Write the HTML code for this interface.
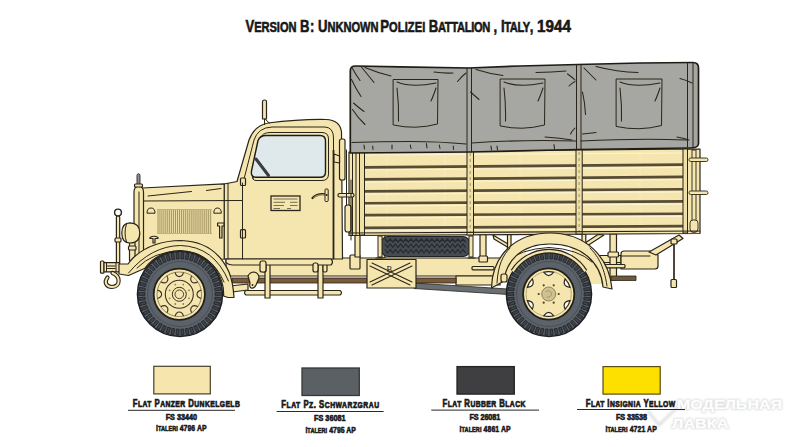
<!DOCTYPE html>
<html><head><meta charset="utf-8">
<style>
html,body{margin:0;padding:0;background:#fff;width:800px;height:447px;overflow:hidden}
svg{display:block}
text{font-family:"Liberation Sans",sans-serif;font-weight:bold;fill:#1a1a1a}
</style></head><body>
<svg width="800" height="447" viewBox="0 0 800 447">
<!-- TITLE -->
<g id="title">
<g transform="translate(245.5 31.7) scale(0.8 1)"><text x="0" y="0" textLength="63.8" lengthAdjust="spacing" font-size="16.4" stroke="#111" stroke-width="0.55">V<tspan font-size="13.9">ERSION</tspan></text></g>
<g transform="translate(300 31.7) scale(0.8 1)"><text x="0" y="0" textLength="12.5" lengthAdjust="spacing" font-size="16.4" stroke="#111" stroke-width="0.55">B</text></g>
<g transform="translate(310 31.7) scale(0.8 1)"><text x="0" y="0" textLength="4.5" lengthAdjust="spacing" font-size="16.4" stroke="#111" stroke-width="0.55">:</text></g>
<g transform="translate(318 31.7) scale(0.8 1)"><text x="0" y="0" textLength="75.6" lengthAdjust="spacing" font-size="16.4" stroke="#111" stroke-width="0.55">U<tspan font-size="13.9">NKNOWN</tspan></text></g>
<g transform="translate(380.3 31.7) scale(0.8 1)"><text x="0" y="0" textLength="56.2" lengthAdjust="spacing" font-size="16.4" stroke="#111" stroke-width="0.55">P<tspan font-size="13.9">OLIZEI</tspan></text></g>
<g transform="translate(428.8 31.7) scale(0.8 1)"><text x="0" y="0" textLength="76.9" lengthAdjust="spacing" font-size="16.4" stroke="#111" stroke-width="0.55">B<tspan font-size="13.9">ATTALION</tspan></text></g>
<g transform="translate(493.5 31.7) scale(0.8 1)"><text x="0" y="0" textLength="5.0" lengthAdjust="spacing" font-size="16.4" stroke="#111" stroke-width="0.55">,</text></g>
<g transform="translate(501 31.7) scale(0.8 1)"><text x="0" y="0" textLength="40.6" lengthAdjust="spacing" font-size="16.4" stroke="#111" stroke-width="0.55">I<tspan font-size="13.9">TALY</tspan>,</text></g>
<g transform="translate(537 31.7) scale(0.92 1)"><text x="0" y="0" textLength="36.9" lengthAdjust="spacingAndGlyphs" font-size="16.4" stroke="#111" stroke-width="0.55">1944</text></g>
</g>
<!-- TRUCK -->
<g id="truck">
<defs>
<style>
.o{stroke:#2a2519;stroke-width:1.2;fill:none;stroke-linejoin:round;stroke-linecap:round}
.b{fill:#f5e5ae;stroke:#2a2519;stroke-width:1.2;stroke-linejoin:round}
.t{stroke:#2a2519;stroke-width:1.05;fill:none;stroke-linecap:round}
.f{stroke:#2a2519;stroke-width:1;fill:none;stroke-linecap:round}
</style>
</defs>
<!-- ===== under-chassis (back) ===== -->
<g>
  <!-- struts under bed -->
  <path class="b" d="M379 234 L385 234 L385 258 L379 258 Z"/>
  <rect class="b" x="480" y="234" width="6" height="42"/>
  <path class="b" d="M493 235 L508 244 L509 248 L494 239 Z"/>
  <rect class="b" x="507.5" y="234" width="3.5" height="20"/>
  <path class="b" d="M604 235 L587 246 L585 243 L598 234.5 Z"/>
  <rect class="b" x="582" y="234" width="3.8" height="15"/>
  <path class="b" d="M592 255.5 L621 255.5 L621 266.5 L592 266.5 Z"/>
  <path class="f" d="M592 262.5 L621 262.5"/>
  <path class="b" d="M610 234 L616.5 234 L616.5 280 L610 280 Z"/>
  <rect class="b" x="608" y="252" width="10.5" height="5" rx="1"/>
  <path class="b" d="M621 254 Q621 251 624 251 L650 251 L658 255 L658 266 Q658 269 655 269 L621 269 Z"/>
  <path class="f" d="M621 256 L650 256"/>
  <path class="b" d="M649 252 L679 235 L683 238.5 L656 255 Z"/>
  <rect class="b" x="603" y="264.5" width="22" height="3.3" rx="1"/>
  <path d="M611 276 L636 276 L636 280.5 L611 280.5 Z" fill="#6b5a40" stroke="#2a2519" stroke-width="0.8"/>
  <path d="M674 241 L674 281" stroke="#3a3226" stroke-width="1.8"/>
  <rect class="b" x="671" y="239" width="6" height="5" rx="1"/>
  <rect class="b" x="671" y="279.5" width="5.5" height="8" rx="1"/>
  <!-- drive shaft / gray line -->
  <path d="M414 283 L508 289 L508 294.5 L414 288.5 Z" fill="#6a6f74" stroke="#2a2519" stroke-width="0.8"/>
  <!-- frame band -->
  <path class="b" d="M226 258 L500 258 L500 276 L226 276 Z"/>
  <path class="b" d="M456 276 L500 276 L500 285 L456 285 Z"/>
  <rect class="b" x="479" y="256" width="8.5" height="6" rx="1"/>
  <rect class="b" x="472" y="266.5" width="22" height="3.3" rx="1"/>
  <!-- exhaust -->
  <path d="M232 278 L456 278 L456 283 L232 283 Z" fill="#7a5a38" stroke="#2a2519" stroke-width="0.8"/>
  <!-- step -->
  <path class="b" d="M246 290.5 L340 290.5 Q343 292.5 340 295 L246 295 Q243 292.5 246 290.5 Z"/>
  <rect class="b" x="265" y="262" width="5" height="36"/>
  <rect class="b" x="318" y="262" width="5" height="36"/>
  <rect class="b" x="262" y="262" width="4" height="10" rx="1.5"/>
  <rect class="b" x="323" y="262" width="4" height="10" rx="1.5"/>
  <!-- box with X -->
  <rect class="b" x="367" y="259.5" width="49" height="28.5"/>
  <path class="t" d="M370 266 L410 285 M372 263 L412 282 M370 282 L410 263 M372 285 L412 266"/>
  <text x="386.5" y="271.5" font-size="8.5" style="font-weight:normal;font-family:'Liberation Serif',serif" fill="#2a2519">B</text>
  <!-- battery box etc right of cab -->
  <rect class="b" x="350" y="255" width="10" height="14" rx="1"/>
  <rect class="b" x="355" y="235" width="5" height="22"/>
</g>

<!-- ===== spare tire ===== -->
<rect x="381" y="236.5" width="89" height="20" rx="7" fill="#464b52" stroke="#1f2226" stroke-width="1.2"/>
<polyline points="385.0,239 387.6,242 390.2,239 392.8,242 395.4,239 398.0,242 400.6,239 403.2,242 405.8,239 408.4,242 411.0,239 413.6,242 416.2,239 418.8,242 421.4,239 424.0,242 426.6,239 429.2,242 431.8,239 434.4,242 437.0,239 439.6,242 442.2,239 444.8,242 447.4,239 450.0,242 452.6,239 455.2,242 457.8,239 460.4,242 463.0,239 465.6,242" fill="none" stroke="#262a2f" stroke-width="1.2"/>
<polyline points="385.0,244 387.6,247.5 390.2,244 392.8,247.5 395.4,244 398.0,247.5 400.6,244 403.2,247.5 405.8,244 408.4,247.5 411.0,244 413.6,247.5 416.2,244 418.8,247.5 421.4,244 424.0,247.5 426.6,244 429.2,247.5 431.8,244 434.4,247.5 437.0,244 439.6,247.5 442.2,244 444.8,247.5 447.4,244 450.0,247.5 452.6,244 455.2,247.5 457.8,244 460.4,247.5 463.0,244 465.6,247.5" fill="none" stroke="#262a2f" stroke-width="1.2"/>
<polyline points="385.0,249.5 387.6,253 390.2,249.5 392.8,253 395.4,249.5 398.0,253 400.6,249.5 403.2,253 405.8,249.5 408.4,253 411.0,249.5 413.6,253 416.2,249.5 418.8,253 421.4,249.5 424.0,253 426.6,249.5 429.2,253 431.8,249.5 434.4,253 437.0,249.5 439.6,253 442.2,249.5 444.8,253 447.4,249.5 450.0,253 452.6,249.5 455.2,253 457.8,249.5 460.4,253 463.0,249.5 465.6,253" fill="none" stroke="#262a2f" stroke-width="1.2"/>
<path d="M378 236 L382 236 L382 257 L378 257 Z M469 236 L473 236 L473 257 L469 257 Z" fill="#f5e5ae" stroke="#2a2519" stroke-width="1"/>
<path class="f" d="M376 258 L383 258 M468 258 L475 258"/>


<!-- ===== cargo bed ===== -->
<g>
  <path class="b" d="M349 152 L700 149 L700 233.5 L349 235.5 Z"/>
  <path d="M387 154 L387 234 M444.5 153 L444.5 234 M520 152 L520 233 M640 151 L640 233" stroke="#fbf1cc" stroke-width="0.7" opacity="0.7"/>
  <g fill="#574d36">
    <path d="M364 166.0 L683 163.3 L683 166.0 L364 168.7 Z"/>
    <path d="M364 178.1 L683 175.6 L683 178.3 L364 180.8 Z"/>
    <path d="M364 190.0 L683 187.9 L683 190.6 L364 192.7 Z"/>
    <path d="M364 201.9 L683 200.1 L683 202.8 L364 204.6 Z"/>
    <path d="M364 213.8 L683 212.4 L683 215.1 L364 216.5 Z"/>
    <path d="M364 226.6 L683 224.7 L683 227.4 L364 229.3 Z"/>
  </g>
  <path d="M364 155.0 L683 153.0 M364 170.0 L683 167.3 M364 182.1 L683 179.6 M364 194.1 L683 191.9 M364 205.9 L683 204.1 M364 217.8 L683 216.4 M364 230.6 L683 228.7 " stroke="#fcf3d2" stroke-width="1.2"/>
  <!-- posts -->
  <rect x="467" y="151" width="6.5" height="84" fill="#efe0a8" stroke="#2a2519" stroke-width="1"/>
  <path d="M470.2 153 L470.2 233" stroke="#8a7d55" stroke-width="0.8" stroke-dasharray="3 3"/>
  <rect x="576" y="150" width="6.2" height="84" fill="#efe0a8" stroke="#2a2519" stroke-width="1"/>
  <path d="M579.1 152 L579.1 232" stroke="#8a7d55" stroke-width="0.8" stroke-dasharray="3 3"/>
  <rect x="359.5" y="152" width="5" height="83" fill="#efe0a8" stroke="#2a2519" stroke-width="1"/>
  <rect x="683" y="149" width="4.5" height="84" fill="#efe0a8" stroke="#2a2519" stroke-width="1"/>
  <path class="f" d="M352.5 152 L352.5 235 M356 152 L356 235 M687.5 149 L687.5 233"/>
  <rect x="692" y="150" width="4" height="82" fill="#f5e5ae" stroke="#2a2519" stroke-width="0.9"/>
  <rect x="689" y="158" width="19" height="3.5" rx="1.7" fill="#f5e5ae" stroke="#2a2519" stroke-width="0.9"/>
  <rect x="689" y="191" width="19" height="3.5" rx="1.7" fill="#f5e5ae" stroke="#2a2519" stroke-width="0.9"/>
  <rect x="690" y="220" width="8" height="12" rx="3" fill="#f5e5ae" stroke="#2a2519" stroke-width="0.9"/>
  <path class="o" d="M349 233 L700 231"/>
</g>

<!-- ===== canopy ===== -->
<g>
  <path d="M350.3 70.5 Q350.5 66 355.5 66 L400 66.8 L469 68 L520 66 L578 64.5 L640 63 L693 62.5 Q698.5 62.5 698.5 68 L698.5 144 Q698 148 690 148 L578 149.5 L469 152 L350.3 153 Z" fill="#a6a7a2" stroke="#1f1c16" stroke-width="1.7"/>
  <path class="f" stroke-width="1.1" d="M467 68 L467 152 M471.5 68 L471.5 152 M576.5 64.5 L576.5 149.5 M581 64.5 L581 149.5 M687.5 63 L687.5 147 M693 63 L693 147"/>
  <!-- windows -->
  <path class="f" stroke-width="1.6" d="M393.5 79.5 L438 79.5 L437.5 124 Q415 130 393.5 125 Z"/>
  <path class="f" stroke-width="1.6" d="M500.5 79 L545 79 L544.5 125 Q522 131 500.5 126 Z"/>
  <path class="f" stroke-width="1.6" d="M616.5 79 L662 79 L661.5 125.5 Q639 131.5 616.5 126.5 Z"/>
  <!-- window sag folds -->
  <path class="t" d="M397 82 Q412 88 436 83 M397 88 Q399 105 398.5 121 M436 88 Q433 97 431 101"/>
  <path class="t" d="M504 82 Q519 88 543 83 M504 88 Q506 105 505.5 121 M543 88 Q540 97 538 101"/>
  <path class="t" d="M620 82 Q635 88 660 83 M620 88 Q622 105 621.5 121 M660 88 Q657 97 655 101"/>
  <!-- folds -->
  <path class="t" d="M352.5 68.5 Q356 75 360 80.5 M361 66.5 Q368 75 374 82.5 M365 67.5 Q378 73 391 76 M351.5 79.5 Q356 89 361 96.5 M353.5 103 Q359 108 364 111.5 M352.5 109.5 Q358 118 365 124.5 M434 72 Q444 73.5 453 73 M457.5 81.5 Q462 76 466 73"/>
  <path class="t" d="M476 69.5 Q490 74 503 75.5 M536 72.5 Q552 72 566 71 M567.5 74 Q572 77 575 80 M569 86 Q572 83 575 81.5 M470.5 92 Q475 96 479 99.5 M575 128 Q572 131 570.5 134 M545 137 Q560 138 572 140"/>
  <path class="t" d="M584 68 Q590 74 596 80 M596 66.5 Q617 72 638 72.5 M582.5 92 Q585 103 585.5 114.5 M582.5 134 Q590 133 596 132.5 M680 78.5 Q686 80 692 83 M677 137 Q683 138 689 140"/>
  <!-- hem -->
  <path class="t" d="M352 142.5 Q380 141.5 410 141.5 Q440 141.5 466 144 M471.5 143 Q520 139.5 576 141 M581 141 Q640 138 687 140"/>
  <path class="t" d="M364 145 L364.5 149 M372.7 146 L373 149.5 M392 145 L392 149 M410.3 145 L411 148.5 M426.4 143.5 L427 148 M439.3 145 L440 148.5 M453.3 146 L453.5 149.5 M491 146 L491.5 150 M497 146 L497.5 150 M554 144.5 L554.5 149"/>
</g>

<!-- ===== cab ===== -->
<g>
  <path class="b" d="M224 184 L237 181.5 L249 140 Q254 126 268 123 Q300 119 326 119.5 Q340 120 341.5 132 L342.5 259 L224 259 Z"/>
  <!-- door outline -->
  <path class="f" d="M243 183 L254 140 Q258 127.5 272 127 L325 127 Q333.5 127.5 333.5 138 L333.5 259"/>
  <path d="M333.5 150 L333.5 259" stroke="#2a2519" stroke-width="1.8"/>
  <!-- window frame -->
  <path class="f" d="M253 178 L260 139 Q262 132.5 270 132.5 L322 132.5 Q328.5 132.5 328.5 139 L328.5 174 Q328.5 180.5 322 180.5 L256 180.5 Q251.5 180.5 253 175 Z"/>
  <path d="M258 140.5 Q260 135.5 266 135.5 L320 135.5 Q325.5 135.5 325.5 141 L325.5 172 Q325.5 177.3 320 177.3 L256.5 177.3 Q250.5 177.3 251.5 171 Z" fill="#dfe8ea" stroke="#1f1c16" stroke-width="1.4"/>
  <path d="M256 159 L268.5 175.5" stroke="#3a3d40" stroke-width="3" stroke-linecap="round"/>
  <!-- plate -->
  <rect x="271" y="196" width="29" height="14.5" fill="#f5e5ae" stroke="#2a2519" stroke-width="1.3"/>
  <path d="M273.5 199 L297.5 199 M273.5 202.3 L285 202.3 M290 202.3 L297.5 202.3 M273.5 205.5 L284 205.5 M290 205.5 L297.5 205.5 M273.5 208.5 L280 208.5 M287 208.5 L291 208.5" stroke="#6b6048" stroke-width="0.9"/>
  <!-- handle -->
  <path d="M312.5 198 Q318 193 326 194.5" stroke="#2a2519" stroke-width="2.2" fill="none" stroke-linecap="round"/>
  <path d="M313.5 197.5 Q318 194 325 195" stroke="#f5e5ae" stroke-width="0.7" fill="none"/>
  <rect x="325" y="189" width="3.2" height="12.5" rx="1" fill="#f5e5ae" stroke="#2a2519" stroke-width="1"/>
  <circle cx="326.6" cy="195" r="1.1" fill="#2a2519"/>
  <!-- hinges -->
  <rect class="b" x="240.5" y="178" width="5" height="7.5" rx="1"/>
  <rect class="b" x="240.5" y="229.7" width="5" height="8.3" rx="1"/>
  <!-- antenna -->
  <path class="b" d="M262.5 101.5 Q262.5 100 264.5 100 Q266.5 100 266.5 101.5 L266.5 119 L262.5 119 Z"/>
  <path class="f" d="M264.5 119 L264.5 124.5 M265.5 119.5 L269.5 123.2"/>
</g>

<g>
  <!-- front-of-bed rods and handle -->
  <rect class="b" x="339.5" y="139" width="5.5" height="41" rx="2"/>
  <path class="b" d="M334 154 L339.5 156 L339.5 163 L334 162 Z"/>
  <rect class="b" x="338" y="193.5" width="16" height="3.5" rx="1.5"/>
  <rect class="b" x="345" y="205" width="6" height="27" rx="2.5"/>
  <path class="f" d="M346.5 150 L346.5 205 M351 180 L351 240"/>
</g>
<!-- sill -->
<path class="b" d="M226 259 L331 259 Q334 262 331 265 L233 265 Q228 265 226 262 Z"/>
<rect class="b" x="260" y="261" width="6" height="11" rx="2"/>
<rect class="b" x="313" y="263" width="5" height="9" rx="2"/>
<path class="b" d="M248 276 Q250 272 254 272 Q259 273 259 278 L256 285 Q254 289 251 288 Q249 287 250 283 Z"/>
<circle cx="252.5" cy="285" r="0.9" fill="#2a2519"/>
<path class="b" d="M230 286 L248 284 L248 290 L232 292 Z"/>
<!-- ===== hood ===== -->
<g>
  <path class="b" d="M142 188 L224.2 183.8 L224.2 259 L142 262 Z"/>
  <path class="f" d="M143 201 L242 200.5 M228 183.5 L228 259 M242.5 183 L242.5 259"/>
  <path class="f" stroke-width="1.3" d="M148 196 L191.5 191.5 M206.5 190.5 L221 188.5"/>
  <!-- louvers -->
  <path d="M158.00 210V233M159.95 210V233M161.90 210V233M163.85 210V233M165.80 210V233M167.75 210V233M169.70 210V233M171.65 210V233M173.60 210V233M175.55 210V233M177.50 210V233M179.45 210V233M181.40 210V233M183.35 210V233M185.30 210V233M187.25 210V233M189.20 210V233M191.15 210V233M193.10 210V233M195.05 210V233M197.00 210V233M198.95 210V233M200.90 210V233M202.85 210V233M204.80 210V233M206.75 210V233M208.70 210V233M210.65 210V233" stroke="#a39462" stroke-width="1.05"/>
  <path d="M157 209.5 L212 209.5 M157 233.5 L212 233.5" stroke="#b3a474" stroke-width="0.8"/>
  <!-- vents -->
  <path class="f" d="M147 212.8 Q147 208 151 208 Q155 208 155 212.8 Z"/>
  <path class="f" d="M213.8 212.8 Q213.8 208 217.5 208 Q221.3 208 221.3 212.8 Z"/>
  <!-- T-handle -->
  <path class="b" d="M217.6 223 L224 223 L224 226 L222 226 L222 238 L219.6 238 L219.6 226 L217.6 226 Z"/>
  <!-- knob -->
  <path class="b" d="M150 237.5 Q154 235 158 237.5 L158 238.5 L155 238.5 L155 243 L153 243 L153 238.5 L150 238.5 Z"/>
  <!-- cowl hinge -->
  
  <!-- radiator shell -->
  <path class="b" d="M134 192 Q134 186.5 138.5 186.5 Q143.5 186.5 143.5 192 L143.5 263 L134 263 Z"/>
  <path class="f" d="M139 192 L139 262"/>
  <path d="M137 184.5 L137 175.5 Q137 173.8 138.5 173.8 Q140 173.8 140 175.5 L140 184.5 Z" fill="#8e9296" stroke="#2a2519" stroke-width="0.9"/>
  <rect class="b" x="134.5" y="184" width="8" height="3" rx="1"/>
  <!-- headlight -->
  <rect class="b" x="129.5" y="242" width="5.5" height="19" rx="1"/>
  <rect class="b" x="128.5" y="246" width="7.5" height="4" rx="1"/>
  <path class="b" d="M130 222.8 Q139.8 223 139.8 233 Q139.8 243 130 243 Q121.8 243 121.8 233 Q121.8 222.8 130 222.8 Z"/>
  <path class="f" d="M126.5 223.8 Q123.5 233 126.5 242"/>
  <!-- post -->
  <rect class="b" x="116.4" y="216" width="3.3" height="48" rx="1"/>
  <circle cx="118" cy="212.5" r="3.4" fill="#fff" stroke="#2a2519" stroke-width="1.4"/>
  <rect class="b" x="115" y="238" width="6" height="4" rx="1"/>
  <!-- bumper -->
  <rect class="b" x="100.5" y="261" width="3.5" height="12.2" rx="1"/>
  <rect class="b" x="104" y="262.6" width="15.5" height="9.2"/>
  <path class="f" d="M106.5 263 L106.5 271.5 M116 263 L116 271.5"/>
  <path class="f" stroke-width="0.8" d="M107.5 266 L115 266 M107.5 268.5 L115 268.5"/>
  <!-- hook -->
  <path d="M112.5 273 C120.5 276 121 286.5 112 287 C106 287 104 282 107.5 277.5" stroke="#2a2519" stroke-width="4.2" fill="none" stroke-linecap="round"/>
  <path d="M112.5 273 C120.5 276 121 286.5 112 287 C106 287 104 282 107.5 277.5" stroke="#f5e5ae" stroke-width="2" fill="none" stroke-linecap="round"/>
</g>

<path d="M498 270 L506 254 L526 246 L526 282 L498 282 Z M572 246 L592 254 L601 268 L602 284 L572 284 Z" fill="#f5e5ae"/>
<path class="f" d="M506 262 Q520 249 549 247.5 Q578 249 592 262"/>
<g id="fw">
<circle cx="180" cy="294" r="42.5" fill="#5c626a" stroke="#1c1f23" stroke-width="1.6"/>
<g fill="#3f444a" stroke="#25282c" stroke-width="0.9"><rect x="215.2" y="292.65" width="6.0" height="2.7" transform="rotate(0.0 180 294)"/><rect x="215.2" y="292.65" width="6.0" height="2.7" transform="rotate(7.2 180 294)"/><rect x="215.2" y="292.65" width="6.0" height="2.7" transform="rotate(14.4 180 294)"/><rect x="215.2" y="292.65" width="6.0" height="2.7" transform="rotate(21.6 180 294)"/><rect x="215.2" y="292.65" width="6.0" height="2.7" transform="rotate(28.8 180 294)"/><rect x="215.2" y="292.65" width="6.0" height="2.7" transform="rotate(36.0 180 294)"/><rect x="215.2" y="292.65" width="6.0" height="2.7" transform="rotate(43.2 180 294)"/><rect x="215.2" y="292.65" width="6.0" height="2.7" transform="rotate(50.4 180 294)"/><rect x="215.2" y="292.65" width="6.0" height="2.7" transform="rotate(57.6 180 294)"/><rect x="215.2" y="292.65" width="6.0" height="2.7" transform="rotate(64.8 180 294)"/><rect x="215.2" y="292.65" width="6.0" height="2.7" transform="rotate(72.0 180 294)"/><rect x="215.2" y="292.65" width="6.0" height="2.7" transform="rotate(79.2 180 294)"/><rect x="215.2" y="292.65" width="6.0" height="2.7" transform="rotate(86.4 180 294)"/><rect x="215.2" y="292.65" width="6.0" height="2.7" transform="rotate(93.6 180 294)"/><rect x="215.2" y="292.65" width="6.0" height="2.7" transform="rotate(100.8 180 294)"/><rect x="215.2" y="292.65" width="6.0" height="2.7" transform="rotate(108.0 180 294)"/><rect x="215.2" y="292.65" width="6.0" height="2.7" transform="rotate(115.2 180 294)"/><rect x="215.2" y="292.65" width="6.0" height="2.7" transform="rotate(122.4 180 294)"/><rect x="215.2" y="292.65" width="6.0" height="2.7" transform="rotate(129.6 180 294)"/><rect x="215.2" y="292.65" width="6.0" height="2.7" transform="rotate(136.8 180 294)"/><rect x="215.2" y="292.65" width="6.0" height="2.7" transform="rotate(144.0 180 294)"/><rect x="215.2" y="292.65" width="6.0" height="2.7" transform="rotate(151.2 180 294)"/><rect x="215.2" y="292.65" width="6.0" height="2.7" transform="rotate(158.4 180 294)"/><rect x="215.2" y="292.65" width="6.0" height="2.7" transform="rotate(165.6 180 294)"/><rect x="215.2" y="292.65" width="6.0" height="2.7" transform="rotate(172.8 180 294)"/><rect x="215.2" y="292.65" width="6.0" height="2.7" transform="rotate(180.0 180 294)"/><rect x="215.2" y="292.65" width="6.0" height="2.7" transform="rotate(187.2 180 294)"/><rect x="215.2" y="292.65" width="6.0" height="2.7" transform="rotate(194.4 180 294)"/><rect x="215.2" y="292.65" width="6.0" height="2.7" transform="rotate(201.6 180 294)"/><rect x="215.2" y="292.65" width="6.0" height="2.7" transform="rotate(208.8 180 294)"/><rect x="215.2" y="292.65" width="6.0" height="2.7" transform="rotate(216.0 180 294)"/><rect x="215.2" y="292.65" width="6.0" height="2.7" transform="rotate(223.2 180 294)"/><rect x="215.2" y="292.65" width="6.0" height="2.7" transform="rotate(230.4 180 294)"/><rect x="215.2" y="292.65" width="6.0" height="2.7" transform="rotate(237.6 180 294)"/><rect x="215.2" y="292.65" width="6.0" height="2.7" transform="rotate(244.8 180 294)"/><rect x="215.2" y="292.65" width="6.0" height="2.7" transform="rotate(252.0 180 294)"/><rect x="215.2" y="292.65" width="6.0" height="2.7" transform="rotate(259.2 180 294)"/><rect x="215.2" y="292.65" width="6.0" height="2.7" transform="rotate(266.4 180 294)"/><rect x="215.2" y="292.65" width="6.0" height="2.7" transform="rotate(273.6 180 294)"/><rect x="215.2" y="292.65" width="6.0" height="2.7" transform="rotate(280.8 180 294)"/><rect x="215.2" y="292.65" width="6.0" height="2.7" transform="rotate(288.0 180 294)"/><rect x="215.2" y="292.65" width="6.0" height="2.7" transform="rotate(295.2 180 294)"/><rect x="215.2" y="292.65" width="6.0" height="2.7" transform="rotate(302.4 180 294)"/><rect x="215.2" y="292.65" width="6.0" height="2.7" transform="rotate(309.6 180 294)"/><rect x="215.2" y="292.65" width="6.0" height="2.7" transform="rotate(316.8 180 294)"/><rect x="215.2" y="292.65" width="6.0" height="2.7" transform="rotate(324.0 180 294)"/><rect x="215.2" y="292.65" width="6.0" height="2.7" transform="rotate(331.2 180 294)"/><rect x="215.2" y="292.65" width="6.0" height="2.7" transform="rotate(338.4 180 294)"/><rect x="215.2" y="292.65" width="6.0" height="2.7" transform="rotate(345.6 180 294)"/><rect x="215.2" y="292.65" width="6.0" height="2.7" transform="rotate(352.8 180 294)"/></g>
<circle cx="180" cy="294" r="32.5" fill="none" stroke="#4a4f56" stroke-width="1"/>
<circle cx="179.3" cy="294.3" r="25.6" fill="#f5e5ae" stroke="#22201a" stroke-width="1.8"/>
<circle cx="179.3" cy="294.3" r="22.3" fill="none" stroke="#6b5f40" stroke-width="0.7"/>
<path d="M175.1 272.4C176.5 278.0 182.1 278.0 183.5 272.4M191.8 275.8C188.8 280.8 192.8 284.8 197.8 281.8M201.2 290.1C195.6 291.5 195.6 297.1 201.2 298.5M197.8 306.8C192.8 303.8 188.8 307.8 191.8 312.8M183.5 316.2C182.1 310.6 176.5 310.6 175.1 316.2M166.8 312.8C169.8 307.8 165.8 303.8 160.8 306.8M157.4 298.5C163.0 297.1 163.0 291.5 157.4 290.1M160.8 281.8C165.8 284.8 169.8 280.8 166.8 275.8" fill="none" stroke="#3a3326" stroke-width="1.1"/>
<circle cx="179.3" cy="294.3" r="14" fill="none" stroke="#3a3326" stroke-width="1.1"/>
<circle cx="179.3" cy="294.3" r="7" fill="none" stroke="#3a3326" stroke-width="1"/>
<circle cx="179.3" cy="294.3" r="4.3" fill="none" stroke="#3a3326" stroke-width="0.9"/>
<circle cx="189.0" cy="298.3" r="0.9" fill="#8a7d55"/>
<circle cx="183.3" cy="304.0" r="0.9" fill="#8a7d55"/>
<circle cx="175.3" cy="304.0" r="0.9" fill="#8a7d55"/>
<circle cx="169.6" cy="298.3" r="0.9" fill="#8a7d55"/>
<circle cx="169.6" cy="290.3" r="0.9" fill="#8a7d55"/>
<circle cx="175.3" cy="284.6" r="0.9" fill="#8a7d55"/>
<circle cx="183.3" cy="284.6" r="0.9" fill="#8a7d55"/>
<circle cx="189.0" cy="290.3" r="0.9" fill="#8a7d55"/>
</g>
<g id="rw">
<circle cx="549" cy="294" r="42.5" fill="#5c626a" stroke="#1c1f23" stroke-width="1.6"/>
<g fill="#3f444a" stroke="#25282c" stroke-width="0.9"><rect x="584.2" y="292.65" width="6.0" height="2.7" transform="rotate(0.0 549 294)"/><rect x="584.2" y="292.65" width="6.0" height="2.7" transform="rotate(7.2 549 294)"/><rect x="584.2" y="292.65" width="6.0" height="2.7" transform="rotate(14.4 549 294)"/><rect x="584.2" y="292.65" width="6.0" height="2.7" transform="rotate(21.6 549 294)"/><rect x="584.2" y="292.65" width="6.0" height="2.7" transform="rotate(28.8 549 294)"/><rect x="584.2" y="292.65" width="6.0" height="2.7" transform="rotate(36.0 549 294)"/><rect x="584.2" y="292.65" width="6.0" height="2.7" transform="rotate(43.2 549 294)"/><rect x="584.2" y="292.65" width="6.0" height="2.7" transform="rotate(50.4 549 294)"/><rect x="584.2" y="292.65" width="6.0" height="2.7" transform="rotate(57.6 549 294)"/><rect x="584.2" y="292.65" width="6.0" height="2.7" transform="rotate(64.8 549 294)"/><rect x="584.2" y="292.65" width="6.0" height="2.7" transform="rotate(72.0 549 294)"/><rect x="584.2" y="292.65" width="6.0" height="2.7" transform="rotate(79.2 549 294)"/><rect x="584.2" y="292.65" width="6.0" height="2.7" transform="rotate(86.4 549 294)"/><rect x="584.2" y="292.65" width="6.0" height="2.7" transform="rotate(93.6 549 294)"/><rect x="584.2" y="292.65" width="6.0" height="2.7" transform="rotate(100.8 549 294)"/><rect x="584.2" y="292.65" width="6.0" height="2.7" transform="rotate(108.0 549 294)"/><rect x="584.2" y="292.65" width="6.0" height="2.7" transform="rotate(115.2 549 294)"/><rect x="584.2" y="292.65" width="6.0" height="2.7" transform="rotate(122.4 549 294)"/><rect x="584.2" y="292.65" width="6.0" height="2.7" transform="rotate(129.6 549 294)"/><rect x="584.2" y="292.65" width="6.0" height="2.7" transform="rotate(136.8 549 294)"/><rect x="584.2" y="292.65" width="6.0" height="2.7" transform="rotate(144.0 549 294)"/><rect x="584.2" y="292.65" width="6.0" height="2.7" transform="rotate(151.2 549 294)"/><rect x="584.2" y="292.65" width="6.0" height="2.7" transform="rotate(158.4 549 294)"/><rect x="584.2" y="292.65" width="6.0" height="2.7" transform="rotate(165.6 549 294)"/><rect x="584.2" y="292.65" width="6.0" height="2.7" transform="rotate(172.8 549 294)"/><rect x="584.2" y="292.65" width="6.0" height="2.7" transform="rotate(180.0 549 294)"/><rect x="584.2" y="292.65" width="6.0" height="2.7" transform="rotate(187.2 549 294)"/><rect x="584.2" y="292.65" width="6.0" height="2.7" transform="rotate(194.4 549 294)"/><rect x="584.2" y="292.65" width="6.0" height="2.7" transform="rotate(201.6 549 294)"/><rect x="584.2" y="292.65" width="6.0" height="2.7" transform="rotate(208.8 549 294)"/><rect x="584.2" y="292.65" width="6.0" height="2.7" transform="rotate(216.0 549 294)"/><rect x="584.2" y="292.65" width="6.0" height="2.7" transform="rotate(223.2 549 294)"/><rect x="584.2" y="292.65" width="6.0" height="2.7" transform="rotate(230.4 549 294)"/><rect x="584.2" y="292.65" width="6.0" height="2.7" transform="rotate(237.6 549 294)"/><rect x="584.2" y="292.65" width="6.0" height="2.7" transform="rotate(244.8 549 294)"/><rect x="584.2" y="292.65" width="6.0" height="2.7" transform="rotate(252.0 549 294)"/><rect x="584.2" y="292.65" width="6.0" height="2.7" transform="rotate(259.2 549 294)"/><rect x="584.2" y="292.65" width="6.0" height="2.7" transform="rotate(266.4 549 294)"/><rect x="584.2" y="292.65" width="6.0" height="2.7" transform="rotate(273.6 549 294)"/><rect x="584.2" y="292.65" width="6.0" height="2.7" transform="rotate(280.8 549 294)"/><rect x="584.2" y="292.65" width="6.0" height="2.7" transform="rotate(288.0 549 294)"/><rect x="584.2" y="292.65" width="6.0" height="2.7" transform="rotate(295.2 549 294)"/><rect x="584.2" y="292.65" width="6.0" height="2.7" transform="rotate(302.4 549 294)"/><rect x="584.2" y="292.65" width="6.0" height="2.7" transform="rotate(309.6 549 294)"/><rect x="584.2" y="292.65" width="6.0" height="2.7" transform="rotate(316.8 549 294)"/><rect x="584.2" y="292.65" width="6.0" height="2.7" transform="rotate(324.0 549 294)"/><rect x="584.2" y="292.65" width="6.0" height="2.7" transform="rotate(331.2 549 294)"/><rect x="584.2" y="292.65" width="6.0" height="2.7" transform="rotate(338.4 549 294)"/><rect x="584.2" y="292.65" width="6.0" height="2.7" transform="rotate(345.6 549 294)"/><rect x="584.2" y="292.65" width="6.0" height="2.7" transform="rotate(352.8 549 294)"/></g>
<circle cx="549" cy="294" r="32.5" fill="none" stroke="#4a4f56" stroke-width="1"/>
<circle cx="548.7" cy="294" r="25.6" fill="#f5e5ae" stroke="#22201a" stroke-width="1.8"/>
<circle cx="548.7" cy="294" r="22.6" fill="none" stroke="#8a7d55" stroke-width="0.6"/>
<path d="M543.7 272.2 Q548.7 271.0 553.7 272.2 Q548.7 279.0 543.7 272.2 Z" fill="#fdfdfb" stroke="#2a2519" stroke-width="1.1"/>
<path d="M565.1 278.8 Q568.6 282.5 570.1 287.4 Q561.7 286.5 565.1 278.8 Z" fill="#fdfdfb" stroke="#2a2519" stroke-width="1.1"/>
<path d="M570.1 300.6 Q568.6 305.5 565.1 309.2 Q561.7 301.5 570.1 300.6 Z" fill="#fdfdfb" stroke="#2a2519" stroke-width="1.1"/>
<path d="M553.7 315.8 Q548.7 317.0 543.7 315.8 Q548.7 309.0 553.7 315.8 Z" fill="#fdfdfb" stroke="#2a2519" stroke-width="1.1"/>
<path d="M532.3 309.2 Q528.8 305.5 527.3 300.6 Q535.7 301.5 532.3 309.2 Z" fill="#fdfdfb" stroke="#2a2519" stroke-width="1.1"/>
<path d="M527.3 287.4 Q528.8 282.5 532.3 278.8 Q535.7 286.5 527.3 287.4 Z" fill="#fdfdfb" stroke="#2a2519" stroke-width="1.1"/>
<circle cx="548.7" cy="294" r="7" fill="#cfc190" stroke="#8a7d55" stroke-width="0.9"/>
<path d="M545.7 292 Q548.7 289 551.7 293 Q550.7 298 546.7 297" fill="none" stroke="#9a8c62" stroke-width="0.8"/>
<circle cx="558.7" cy="294.0" r="1.1" fill="#4a4030"/>
<circle cx="553.7" cy="302.7" r="1.1" fill="#4a4030"/>
<circle cx="543.7" cy="302.7" r="1.1" fill="#4a4030"/>
<circle cx="538.7" cy="294.0" r="1.1" fill="#4a4030"/>
<circle cx="543.7" cy="285.3" r="1.1" fill="#4a4030"/>
<circle cx="553.7" cy="285.3" r="1.1" fill="#4a4030"/>
</g>

<!-- ===== front fender ===== -->
<path class="b" d="M119 264 L128 264 Q131 260 133 258 Q151 241 181 240.5 Q215 241.5 229 272 Q233 282 234 297.5 L228 297.5 L223.6 296 A43.6 43.6 0 0 0 145 268.2 L128.5 275.5 L119 274 Z"/>
<path class="f" d="M128.5 273 Q151 246 180.5 245.5 Q214 246.5 228.5 281"/>
<path class="f" d="M137 268 Q153 251.5 180.5 251 Q211 252 224 282"/>
<!-- ===== rear fender ===== -->
<path d="M512.7 271.3 A42.8 42.8 0 0 1 585.3 271.3" stroke="#2a2519" stroke-width="4.6" fill="none"/>
<path d="M512.7 271.3 A42.8 42.8 0 0 1 585.3 271.3" stroke="#f5e5ae" stroke-width="2.4" fill="none"/>

<path class="b" d="M491.5 288 C492 256 515 233 550 233 C585 233 609 256 612 289 L603 287 C601 263 582 244 550 244 C520 244 506 262 504 281 Z"/>
<path class="f" d="M497 283 C498 265 503 255 510 248 M590 248 C597 255 604 265 607 286"/>
<rect class="b" x="501" y="274" width="6" height="8" rx="2"/>

</g>

<!-- SWATCHES -->
<rect x="153.8" y="366.3" width="56.5" height="27.6" fill="#f6e6ae" stroke="#4a3f2a" stroke-width="1.2"/>
<rect x="302" y="368" width="57.3" height="27.5" fill="#5a6064" stroke="#33383a" stroke-width="1.3"/>
<rect x="457" y="366.6" width="57.3" height="27.5" fill="#3f3e40" stroke="#232324" stroke-width="1.3"/>
<rect x="603" y="366.6" width="57.2" height="27.5" fill="#fde000" stroke="#5a4c12" stroke-width="1.2"/>

<!-- WATERMARK -->
<g opacity="1">
<defs><filter id="wmf" x="-20%" y="-50%" width="140%" height="200%"><feGaussianBlur stdDeviation="1.2"/></filter></defs>
<g filter="url(#wmf)" fill="#e2e2e2" stroke="#e2e2e2" stroke-width="2">
<text x="677" y="408.8" textLength="105" lengthAdjust="spacingAndGlyphs" font-size="13.6" style="fill:#e2e2e2">МОДЕЛЬНАЯ</text>
<text x="672" y="428" textLength="56.5" lengthAdjust="spacingAndGlyphs" font-size="13.6" style="fill:#e2e2e2">ЛАВКА</text>
<path d="M648 411 L659 425 L684 401" fill="none" stroke-width="3"/>
</g>
<text x="677" y="408.8" textLength="105" lengthAdjust="spacingAndGlyphs" font-size="13.6" style="fill:#fff">МОДЕЛЬНАЯ</text>
<text x="672" y="428" textLength="56.5" lengthAdjust="spacingAndGlyphs" font-size="13.6" style="fill:#fff">ЛАВКА</text>
</g>
<!-- LABELS -->
<g>
<g transform="translate(132.8 406.6) scale(0.76 1)"><text x="0" y="0" textLength="140.8" lengthAdjust="spacing" font-size="10.2" stroke="#1a1a1a" stroke-width="0.7">F<tspan font-size="8.9">LAT</tspan> P<tspan font-size="8.9">ANZER</tspan> D<tspan font-size="8.9">UNKELGELB</tspan></text></g>
<rect x="128" y="409.8" width="107" height="1" fill="#2a2a2a"/>
<g transform="translate(165.7 419.6) scale(0.86 1)"><text x="0" y="0" textLength="36.4" lengthAdjust="spacing" font-size="8.4" stroke="#1a1a1a" stroke-width="0.6">FS 33440</text></g>
<g transform="translate(156.0 431.3) scale(0.8 1)"><text x="0" y="0" textLength="63.1" lengthAdjust="spacing" font-size="8.6" stroke="#1a1a1a" stroke-width="0.55">I<tspan font-size="6.9">TALERI</tspan>  4796 AP</text></g>

<g transform="translate(281.3 408.1) scale(0.76 1)"><text x="0" y="0" textLength="128.6" lengthAdjust="spacing" font-size="10.2" stroke="#1a1a1a" stroke-width="0.7">F<tspan font-size="8.9">LAT</tspan> P<tspan font-size="8.9">Z</tspan>. S<tspan font-size="8.9">CHWARZGRAU</tspan></text></g>
<rect x="276.6" y="411" width="107" height="1" fill="#2a2a2a"/>
<g transform="translate(314.0 421.0) scale(0.86 1)"><text x="0" y="0" textLength="36.7" lengthAdjust="spacing" font-size="8.4" stroke="#1a1a1a" stroke-width="0.6">FS 36081</text></g>
<g transform="translate(305.4 432.8) scale(0.8 1)"><text x="0" y="0" textLength="63.2" lengthAdjust="spacing" font-size="8.6" stroke="#1a1a1a" stroke-width="0.55">I<tspan font-size="6.9">TALERI</tspan>  4795 AP</text></g>

<g transform="translate(442.6 406.6) scale(0.76 1)"><text x="0" y="0" textLength="108.9" lengthAdjust="spacing" font-size="10.2" stroke="#1a1a1a" stroke-width="0.7">F<tspan font-size="8.9">LAT</tspan> R<tspan font-size="8.9">UBBER</tspan> B<tspan font-size="8.9">LACK</tspan></text></g>
<rect x="431.3" y="409.6" width="107.7" height="1" fill="#2a2a2a"/>
<g transform="translate(469.4 420.0) scale(0.86 1)"><text x="0" y="0" textLength="35.9" lengthAdjust="spacing" font-size="8.4" stroke="#1a1a1a" stroke-width="0.6">FS 26081</text></g>
<g transform="translate(459.5 432.0) scale(0.8 1)"><text x="0" y="0" textLength="63.9" lengthAdjust="spacing" font-size="8.6" stroke="#1a1a1a" stroke-width="0.55">I<tspan font-size="6.9">TALERI</tspan>  4861 AP</text></g>

<g transform="translate(585.8 406.8) scale(0.76 1)"><text x="0" y="0" textLength="117.4" lengthAdjust="spacing" font-size="10.2" stroke="#1a1a1a" stroke-width="0.7">F<tspan font-size="8.9">LAT</tspan> I<tspan font-size="8.9">NSIGNIA</tspan> Y<tspan font-size="8.9">ELLOW</tspan></text></g>
<rect x="577" y="409" width="108" height="1" fill="#2a2a2a"/>
<g transform="translate(616.0 420.0) scale(0.86 1)"><text x="0" y="0" textLength="36.0" lengthAdjust="spacing" font-size="8.4" stroke="#1a1a1a" stroke-width="0.6">FS 33538</text></g>
<g transform="translate(605.4 432.0) scale(0.8 1)"><text x="0" y="0" textLength="64.2" lengthAdjust="spacing" font-size="8.6" stroke="#1a1a1a" stroke-width="0.55">I<tspan font-size="6.9">TALERI</tspan>  4721 AP</text></g>
</g>
</svg>
</body></html>
